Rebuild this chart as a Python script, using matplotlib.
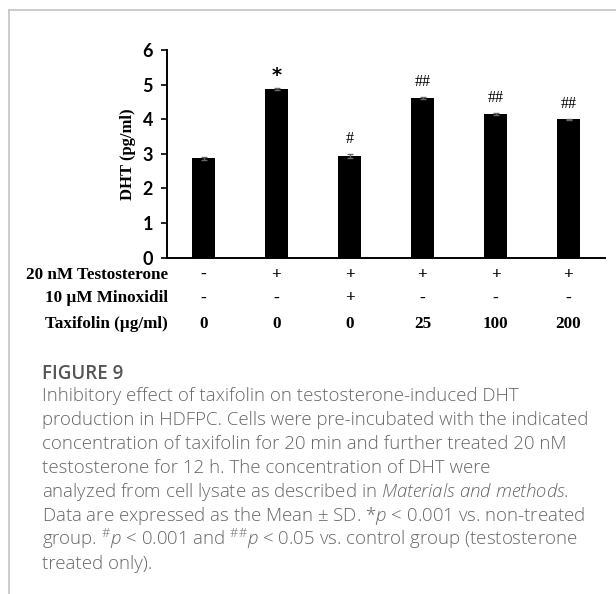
import numpy as np
import matplotlib
matplotlib.use("Agg")
import matplotlib.pyplot as plt
from matplotlib.lines import Line2D

plt.rcParams['mathtext.fontset'] = 'custom'
plt.rcParams['mathtext.rm'] = 'Open Sans:light'
plt.rcParams['mathtext.it'] = 'Open Sans:italic:light'

# data
dht = [2.87, 4.88, 2.94, 4.62, 4.16, 4.00]
dht_err = [0.04, 0.03, 0.05, 0.03, 0.03, 0.02]
marks = ["", "*", "#", "##", "##", "##"]
testosterone = ["-", "+", "+", "+", "+", "+"]
minoxidil = ["-", "-", "+", "-", "-", "-"]
taxifolin = ["0", "0", "0", "25", "100", "200"]
row_names = ["20 nM Testosterone", "10 \u00b5M Minoxidil", "Taxifolin (\u00b5g/ml)"]

caption = [
    "Inhibitory effect of taxifolin on testosterone-induced DHT",
    "production in HDFPC. Cells were pre-incubated with the indicated",
    "concentration of taxifolin for 20 min and further treated 20 nM",
    "testosterone for 12 h. The concentration of DHT were",
    r"analyzed from cell lysate as described in $\mathit{Materials\ and\ methods}$.",
    r"Data are expressed as the Mean $\pm$ SD. *$\mathit{p}$ < 0.001 vs. non-treated",
    r"group. $^{\#}\mathit{p}$ < 0.001 and $^{\#\#}\mathit{p}$ < 0.05 vs. control group (testosterone",
    "treated only).",
]

W, H = 616, 594
fig = plt.figure(figsize=(W / 100, H / 100), dpi=100)

def px(x, y):
    return x / W, 1 - y / H

# page frame lines
fig.add_artist(Line2D([9 / W, 1], [1 - 9.5 / H] * 2, color="#c8c8c8", lw=1.3))
fig.add_artist(Line2D([9 / W] * 2, [0, 1 - 9.5 / H], color="#c8c8c8", lw=1.3))

ax = fig.add_axes([167 / W, 1 - 257.7 / H, 438 / W, 207.7 / H])
x = np.arange(len(dht))
ax.bar(x, dht, width=0.315, color="black", zorder=2)
ax.errorbar(x, dht, yerr=dht_err, fmt="none", ecolor="#666666", elinewidth=1,
            capsize=2.5, capthick=1, zorder=3)
ax.set_xlim(-0.5, len(dht) - 0.5)
ax.set_ylim(0, 6)
ax.set_yticks(range(7))
ax.set_xticks([])
for s in ["top", "right"]:
    ax.spines[s].set_visible(False)
ax.spines["left"].set_linewidth(1.4)
ax.spines["bottom"].set_linewidth(1.4)
ax.tick_params(axis="y", length=4, width=1.2, pad=6)
for lab in ax.get_yticklabels():
    lab.set_fontfamily("Lato")
    lab.set_fontweight("bold")
    lab.set_fontsize(13)
ax.set_ylabel("DHT (pg/ml)", fontfamily="Liberation Serif", fontweight="bold",
              fontsize=12, labelpad=4.5)

for i, m in enumerate(marks):
    if not m:
        continue
    if m == "*":
        ax.annotate(m, (x[i], dht[i] + dht_err[i]), xytext=(0, 2),
                    textcoords="offset points", ha="center", va="bottom",
                    fontfamily="DejaVu Sans", fontweight="bold", fontsize=14)
    else:
        ax.annotate(m, (x[i], dht[i] + dht_err[i]), xytext=(0, 5),
                    textcoords="offset points", ha="center", va="bottom",
                    fontfamily="Liberation Serif", fontsize=11.5)

# treatment table under the axis
row_y = [275, 298.5, 324.5]
rows = [testosterone, minoxidil, taxifolin]
for ry, name, vals in zip(row_y, row_names, rows):
    fig.text(*px(168, ry), name, ha="right", va="center",
             fontfamily="Liberation Serif", fontweight="bold", fontsize=12.3)
    for i, v in enumerate(vals):
        xf = ax.transData.transform((x[i], 0))[0] / W
        fig.text(xf, 1 - ry / H, v, ha="center", va="center",
                 fontfamily="Liberation Serif", fontweight="bold", fontsize=12.3)

# caption
fig.text(*px(42, 379), "FIGURE 9", ha="left", va="baseline", fontfamily="Open Sans",
         fontweight="semibold", fontsize=13.5, color="#555555")
for k, line in enumerate(caption):
    fig.text(*px(42, 401 + 24 * k), line, ha="left", va="baseline",
             fontfamily="Open Sans", fontweight="light", fontsize=13.4,
             color="#666666")

fig.savefig("out.png", dpi=100)
